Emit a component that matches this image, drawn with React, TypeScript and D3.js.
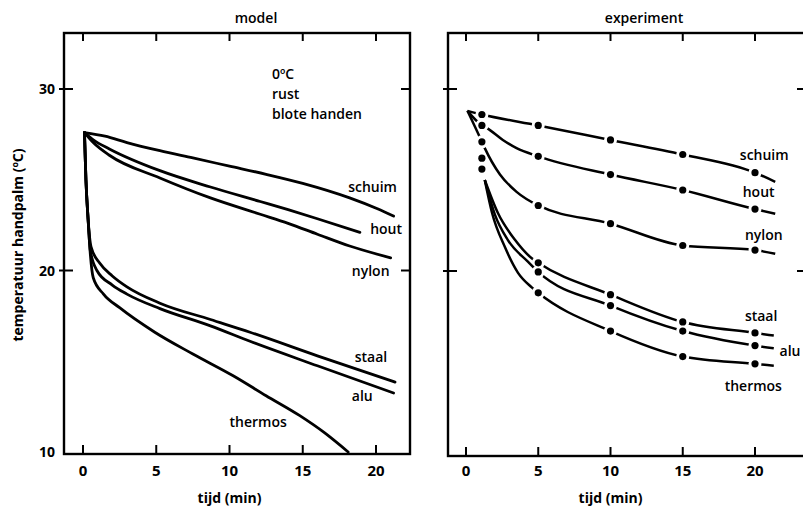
import React from 'react';
import * as d3 from 'd3';

// x ticks (tijd in min) and y ticks (temperatuur)
const timeTicks = [0, 5, 10, 15, 20];
const tempTicks = [20, 30];
const tempLabels = [10, 20, 30];

// model curves, [t, temp]
const modelSchuim = [[0.1, 27.6], [1.5, 27.4], [3, 27.05], [5.25, 26.6], [7.5, 26.2], [10, 25.75], [12.5, 25.3], [15, 24.8], [18.2, 24.0], [20.1, 23.4], [21.2, 23.0]];
const modelHout = [[0.1, 27.6], [0.7, 27.2], [1.8, 26.7], [5.25, 25.5], [8.7, 24.6], [12.1, 23.8], [14, 23.35], [16, 22.85], [18.9, 22.1]];
const modelNylon = [[0.1, 27.6], [0.7, 27.05], [1.8, 26.35], [5.25, 25.1], [8.7, 24.0], [12.1, 23.1], [14, 22.6], [16, 22.0], [18.2, 21.35], [21.0, 20.7]];
const modelStaal = [[0.1, 27.6], [0.2, 25.0], [0.35, 22.8], [0.55, 21.3], [1.15, 20.4], [2, 19.7], [3, 19.1], [5.25, 18.2], [8.7, 17.3], [11.4, 16.6], [16, 15.3], [21.3, 13.85]];
const modelAlu = [[0.1, 27.6], [0.2, 25.0], [0.35, 22.8], [0.5, 21.1], [0.95, 20.0], [2, 19.2], [3, 18.7], [5.25, 17.9], [8.7, 16.95], [11.4, 16.1], [16, 14.75], [21.2, 13.25]];
const modelThermos = [[0.1, 27.6], [0.2, 25.0], [0.35, 22.8], [0.5, 20.9], [0.7, 19.6], [1.4, 18.7], [2.5, 17.95], [4.9, 16.6], [7.5, 15.4], [10.25, 14.2], [12.5, 13.1], [14.8, 12.0], [16.5, 11.05], [18.1, 10.0]];

// experiment: measured dots and the drawn lines through them
const expTimes = [1.1, 5, 10, 15, 20];
const expSchuimDots = [28.6, 28.0, 27.2, 26.4, 25.4];
const expHoutDots = [28.0, 26.3, 25.3, 24.45, 23.4];
const expNylonDots = [27.1, 23.6, 22.6, 21.4, 21.15];
const expStaalDots = [26.2, 20.45, 18.7, 17.2, 16.6];
const expAluDots = [25.6, 19.95, 18.1, 16.7, 15.9];
const expThermosDots = [null, 18.8, 16.7, 15.3, 14.9];

const expSchuimLine = [[0.1, 28.8], [1.1, 28.6], [5, 28.0], [10, 27.2], [15, 26.4], [20, 25.4], [21.4, 24.9]];
const expHoutLine = [[0.1, 28.8], [1.1, 28.0], [1.45, 27.85], [2.55, 27.2], [3.5, 26.75], [5, 26.3], [10, 25.3], [15, 24.45], [20, 23.4], [21.4, 23.15]];
const expNylonLine = [[0.1, 28.8], [1.1, 27.1], [1.3, 26.75], [2.35, 25.3], [3.5, 24.35], [5, 23.6], [10, 22.6], [15, 21.4], [20, 21.15], [21.4, 20.95]];
const expStaalLine = [[1.3, 25.0], [2.2, 23.2], [3.4, 21.7], [4.55, 20.7], [5, 20.45], [10, 18.7], [15, 17.2], [20, 16.6], [21.3, 16.45]];
const expAluLine = [[1.3, 25.0], [2.0, 23.1], [2.9, 21.7], [4.3, 20.5], [5, 19.95], [10, 18.1], [15, 16.7], [20, 15.9], [21.3, 15.75]];
const expThermosLine = [[1.3, 25.0], [1.8, 23.2], [2.7, 21.3], [3.6, 19.9], [4.55, 19.1], [5, 18.8], [10, 16.7], [15, 15.3], [20, 14.9], [21.3, 14.8]];

const names = ['schuim', 'hout', 'nylon', 'staal', 'alu', 'thermos'];
const modelLines = [modelSchuim, modelHout, modelNylon, modelStaal, modelAlu, modelThermos];
const expLines = [expSchuimLine, expHoutLine, expNylonLine, expStaalLine, expAluLine, expThermosLine];
const expDots = [expSchuimDots, expHoutDots, expNylonDots, expStaalDots, expAluDots, expThermosDots];

// label anchors [t, temp]
const modelLabelPos = [[18.1, 24.3], [19.6, 22.0], [18.35, 19.7], [18.55, 14.95], [18.35, 12.8], [10.0, 11.4]];
const expLabelPos = [[18.95, 26.1], [19.15, 24.05], [19.3, 21.7], [19.3, 17.25], [21.7, 15.35], [17.9, 13.4]];
const conditions = ['0ºC', 'rust', 'blote handen'];

const font = '"Open Sans", "DejaVu Sans", sans-serif';

const W = 803;
const H = 510;

function Panel({ left, right, top, bottom, x, y, title, titleX, children }) {
  return (
    <g>
      <rect x={left} y={top} width={right - left} height={bottom - top} fill="none" stroke="#000" strokeWidth={2.4} />
      {timeTicks.map(t => (
        <g key={t}>
          <line x1={x(t)} x2={x(t)} y1={top} y2={top + 8} stroke="#000" strokeWidth={2} />
          <line x1={x(t)} x2={x(t)} y1={bottom} y2={bottom - 9} stroke="#000" strokeWidth={2} />
          <text x={x(t)} y={476} textAnchor="middle" fontSize={15} fontWeight={700}>{t}</text>
        </g>
      ))}
      {tempTicks.map(v => (
        <g key={v}>
          <line x1={left - 5} x2={left + 9} y1={y(v)} y2={y(v)} stroke="#000" strokeWidth={2} />
          <line x1={right} x2={right - 9} y1={y(v)} y2={y(v)} stroke="#000" strokeWidth={2} />
        </g>
      ))}
      <text x={titleX} y={23} textAnchor="middle" fontSize={14} fontWeight={600}>{title}</text>
      <text x={x(10)} y={503} textAnchor="middle" fontSize={14} fontWeight={700}>tijd (min)</text>
      {children}
    </g>
  );
}

export default function App() {
  const xL = d3.scaleLinear().domain([0, 20]).range([83, 376]);
  const yL = d3.scaleLinear().domain([10, 30]).range([452, 89]);
  const xR = d3.scaleLinear().domain([0, 20]).range([466, 755]);
  const yR = d3.scaleLinear().domain([10, 30]).range([453, 89]);

  const lineL = d3.line().x(d => xL(d[0])).y(d => yL(d[1])).curve(d3.curveMonotoneX);
  const lineR = d3.line().x(d => xR(d[0])).y(d => yR(d[1])).curve(d3.curveMonotoneX);

  return (
    <svg width={W} height={H} style={{ position: 'absolute', left: 0, top: 0, background: '#fff' }} fontFamily={font}>
      <defs>
        {names.map((n, i) => (
          <mask id={'gap-' + n} key={n} maskUnits="userSpaceOnUse" x={0} y={0} width={W} height={H}>
            <rect x={0} y={0} width={W} height={H} fill="#fff" />
            {expDots[i].map((v, j) => v == null ? null : (
              <circle key={j} cx={xR(expTimes[j])} cy={yR(v)} r={6.5} fill="#000" />
            ))}
          </mask>
        ))}
      </defs>

      <Panel left={64} right={410} top={33} bottom={454} x={xL} y={yL} title="model" titleX={256}>
        {tempLabels.map(v => (
          <text key={v} x={55} y={yL(v) + 5} textAnchor="end" fontSize={14} fontWeight={700}>{v}</text>
        ))}
        <text transform={`translate(23,245) rotate(-90)`} textAnchor="middle" fontSize={14} fontWeight={700}>temperatuur handpalm (ºC)</text>
        {modelLines.map((d, i) => (
          <path key={names[i]} d={lineL(d)} fill="none" stroke="#000" strokeWidth={2.8} strokeLinecap="round" />
        ))}
        {names.map((n, i) => (
          <text key={n} x={xL(modelLabelPos[i][0])} y={yL(modelLabelPos[i][1])} fontSize={14} fontWeight={600}>{n}</text>
        ))}
        {conditions.map((c, i) => (
          <text key={c} x={xL(12.9)} y={yL(30.55 - i * 1.1)} fontSize={14} fontWeight={600}>{c}</text>
        ))}
      </Panel>

      <Panel left={448} right={806} top={33} bottom={456} x={xR} y={yR} title="experiment" titleX={644}>
        {expLines.map((d, i) => (
          <path key={names[i]} d={lineR(d)} fill="none" stroke="#000" strokeWidth={2.5} mask={`url(#gap-${names[i]})`} />
        ))}
        {expDots.map((vals, i) => vals.map((v, j) => v == null ? null : (
          <circle key={names[i] + j} cx={xR(expTimes[j])} cy={yR(v)} r={3.6} fill="#000" />
        )))}
        {names.map((n, i) => (
          <text key={n} x={xR(expLabelPos[i][0])} y={yR(expLabelPos[i][1])} fontSize={14} fontWeight={600}>{n}</text>
        ))}
      </Panel>
    </svg>
  );
}
